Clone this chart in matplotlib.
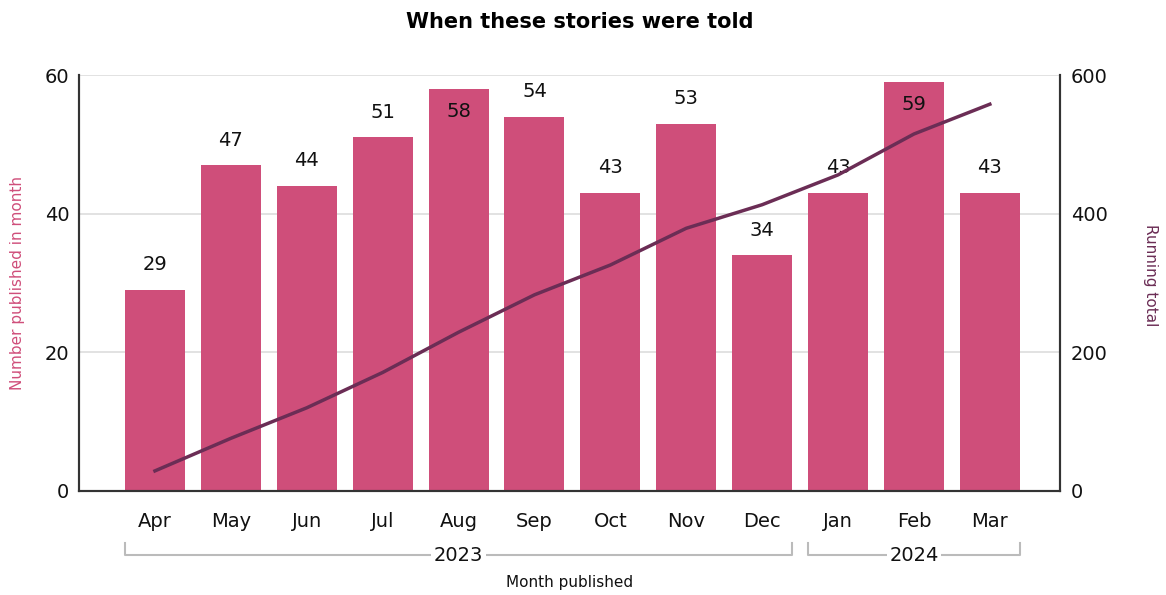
import matplotlib.pyplot as plt
from matplotlib.transforms import blended_transform_factory

months = ["Apr", "May", "Jun", "Jul", "Aug", "Sep",
          "Oct", "Nov", "Dec", "Jan", "Feb", "Mar"]
published = [29, 47, 44, 51, 58, 54, 43, 53, 34, 43, 59, 43]
running_total = [29, 76, 120, 171, 229, 283, 326, 379, 413, 456, 515, 558]
years = ["2023", "2024"]
year_spans = [(0, 8), (9, 11)]

bar_color = "#cf4e7a"
line_color = "#6b2d55"

fig = plt.figure(figsize=(11.66, 5.95), dpi=100)
ax = fig.add_axes([0.0678, 0.1748, 0.841, 0.699])
ax2 = ax.twinx()

x = list(range(len(months)))
bars = ax.bar(x, published, width=0.79, color=bar_color, zorder=2)

for bar, val in zip(bars, published):
    cx = bar.get_x() + bar.get_width() / 2
    if val > 56:
        ax.annotate(str(val), (cx, val), xytext=(0, -16), textcoords="offset points",
                    ha="center", va="center", fontsize=14, color="#111111", zorder=3)
    else:
        ax.annotate(str(val), (cx, val), xytext=(0, 18), textcoords="offset points",
                    ha="center", va="center", fontsize=14, color="#111111", zorder=3)

ax2.plot(x, running_total, color=line_color, lw=2.5, zorder=4)

ax.set_xlim(-1.0, 11.92)
ax.set_ylim(0, 60)
ax2.set_ylim(0, 600)
ax.set_yticks([0, 20, 40, 60])
ax2.set_yticks([0, 200, 400, 600])
ax.yaxis.grid(True, color="#dddddd", lw=1.2, zorder=0)
ax.set_axisbelow(True)

ax.set_xticks(x)
ax.set_xticklabels(months)
ax.set_xticks([2, 5, 8, 11], minor=True)
ax.tick_params(axis="x", which="major", length=0, pad=15, labelsize=14, labelcolor="#111111")
ax.tick_params(axis="x", which="minor", length=5, color="#999999", direction="out")
ax.tick_params(axis="y", length=0, pad=7, labelsize=14, labelcolor="#111111")
ax2.tick_params(axis="y", length=0, pad=8, labelsize=14, labelcolor="#111111")

for a in (ax, ax2):
    a.spines["top"].set_visible(False)
    for side in ("left", "right", "bottom"):
        a.spines[side].set_color("#333333")
        a.spines[side].set_linewidth(1.5)

ax.set_ylabel("Number published in month", color=bar_color, fontsize=11)
ax.yaxis.set_label_coords(-0.055, 0.5)
ax2.set_ylabel("Running total", color=line_color, fontsize=11, rotation=270, va="center")
ax2.yaxis.set_label_coords(1.093, 0.52)
ax.set_xlabel("Month published", fontsize=11, color="#111111", va="center")
ax.xaxis.set_label_coords(0.5, -0.219)
fig.text(0.497, 0.963, "When these stories were told", fontsize=15, fontweight="bold",
         ha="center", va="center")

trans = blended_transform_factory(ax.transData, ax.transAxes)
for label, (start, end) in zip(years, year_spans):
    x0 = start - 0.4
    x1 = end + 0.4
    ax.plot([x0, x0, x1, x1], [-0.126, -0.154, -0.154, -0.126], transform=trans,
            color="#bbbbbb", lw=1.5, clip_on=False)
    ax.text((x0 + x1) / 2, -0.154, label, transform=trans, ha="center", va="center",
            fontsize=14, color="#111111",
            bbox=dict(facecolor="white", edgecolor="none", pad=2))

fig.savefig("out.png", dpi=100)
